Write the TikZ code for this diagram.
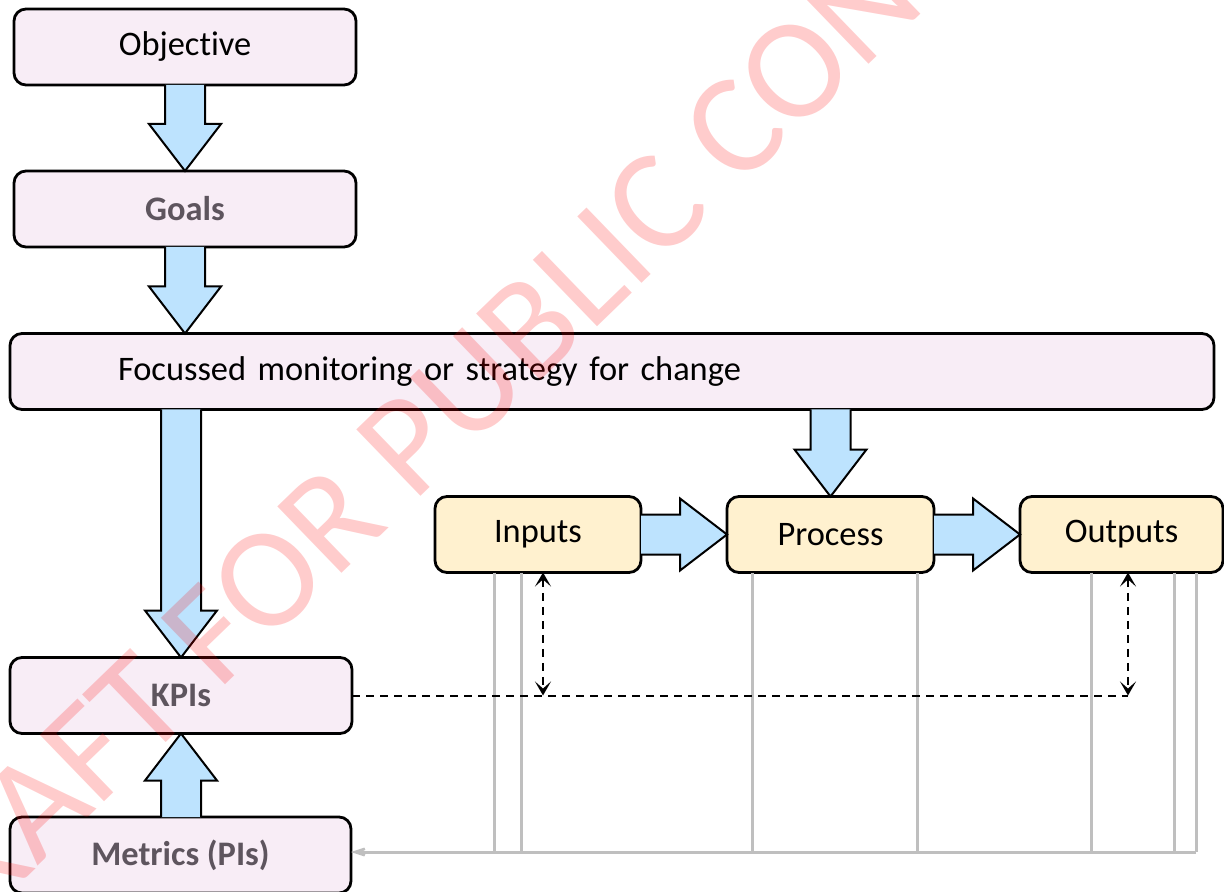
\documentclass[tikz,border=0pt]{standalone}
\usepackage{fontspec}
\setmainfont[Ligatures=NoCommon]{Carlito}
\newfontfamily\wmfont[Ligatures=NoCommon]{Carlito}
\usetikzlibrary{calc}
\usetikzlibrary{arrows.meta}
\usetikzlibrary{positioning}
\definecolor{box-pink}{RGB}{248, 237, 246}
\definecolor{box-yellow}{RGB}{255, 241, 207}
\definecolor{arrow-blue}{RGB}{189, 227, 254}
\definecolor{line-grey}{RGB}{191, 191, 191}
\definecolor{text-grey}{RGB}{94, 85, 94}

\tikzset{
    box/.style={draw=black, line width=1.4pt, rounded corners=6pt, minimum height=38pt,
        inner sep=0pt, outer sep=0pt, font=\fontsize{17.2}{21}\selectfont},
    pinkbox/.style={box, fill=box-pink},
    yellowbox/.style={box, fill=box-yellow},
    strong/.style={font=\fontsize{17.2}{21}\selectfont\bfseries, text=text-grey},
    blockarrow/.style={fill=arrow-blue, draw=black, line width=1pt, line join=miter},
    greyline/.style={draw=line-grey, line width=1.5pt},
    dashlink/.style={dash pattern=on 4pt off 3pt, line width=1pt},
    linktip/.tip={Stealth[length=7pt, width=8pt, inset=3.5pt]},
    backtip/.tip={Stealth[length=15pt, width=10pt, inset=10pt]},
    watermark/.style={font={\wmfont\fontsize{72}{80}\selectfont}, text=red, opacity=0.2}
}

% block arrows: #1 = where the shaft starts, #2 = tip
\newcommand{\arrowdown}[2]{%
    \filldraw[blockarrow] let \p1=(#1), \p2=(#2) in
        (\x2-10pt,\y1) -- (\x2-10pt,\y2+23.5pt) -- (\x2-18pt,\y2+23.5pt) -- (\x2,\y2)
        -- (\x2+18pt,\y2+23.5pt) -- (\x2+10pt,\y2+23.5pt) -- (\x2+10pt,\y1);}
\newcommand{\arrowup}[2]{%
    \filldraw[blockarrow] let \p1=(#1), \p2=(#2) in
        (\x2-10pt,\y1) -- (\x2-10pt,\y2-23.5pt) -- (\x2-18pt,\y2-23.5pt) -- (\x2,\y2)
        -- (\x2+18pt,\y2-23.5pt) -- (\x2+10pt,\y2-23.5pt) -- (\x2+10pt,\y1);}
\newcommand{\arrowright}[2]{%
    \filldraw[blockarrow] let \p1=(#1), \p2=(#2) in
        (\x1,\y2-10pt) -- (\x2-23.5pt,\y2-10pt) -- (\x2-23.5pt,\y2-18pt) -- (\x2,\y2)
        -- (\x2-23.5pt,\y2+18pt) -- (\x2-23.5pt,\y2+10pt) -- (\x1,\y2+10pt);}

\begin{document}
\begin{tikzpicture}[x=0.5pt, y=-0.5pt]
                \useasboundingbox (0, 0) rectangle (1224, 892);
                \clip (0, 0) rectangle (1224, 892);
                % boxes
                \node[pinkbox, minimum width=171pt] (objective) at (185, 47) {Objective};
                \node[pinkbox, strong, minimum width=171pt] (goals) at (185, 209) {Goals};
                \node[pinkbox, text width=494pt, inner xsep=54pt, align=left] (focus) at (612, 371.5) {Focussed monitoring or strategy for change};
                \node[pinkbox, strong, minimum width=171pt] (kpis) at (181, 695.5) {KPIs};
                \node[pinkbox, strong, minimum width=170.5pt] (metrics) at (180.5, 855) {Metrics (PIs)};
                \node[yellowbox, minimum width=103pt] (inputs) at (538, 534.5) {Inputs};
                \node[yellowbox, minimum width=103.5pt] (process) at (830.5, 534.5) {Process};
                \node[yellowbox, minimum width=101.5pt] (outputs) at (1121.5, 534.5) {Outputs};
                % grey feedback lines
                \coordinate (loop) at (1196, 852);
                \foreach \nd/\xpos in {inputs/494, inputs/521, process/752, process/917, outputs/1091, outputs/1174, outputs/1196}
                    \draw[greyline] (\nd.south -| \xpos, 0) -- (\xpos, 852);
                \draw[greyline, -backtip] (loop) -- (loop -| metrics.east);
                % block arrows
                \arrowdown{objective.south}{goals.north}
                \arrowdown{goals.south}{focus.north -| goals.north}
                \arrowdown{focus.south}{kpis.north}
                \arrowup{metrics.north}{kpis.south}
                \arrowdown{focus.south}{process.north}
                \arrowright{inputs.east}{process.west}
                \arrowright{process.east}{outputs.west}
                % dashed links
                \coordinate (inlink) at (kpis.east -| 543, 0);
                \coordinate (outlink) at (kpis.east -| 1128, 0);
                \draw[dashlink] (kpis.east) -- (outlink);
                \draw[dashlink, linktip-linktip] (inputs.south -| inlink) -- (inlink);
                \draw[dashlink, linktip-linktip] (outputs.south -| outlink) -- (outlink);
                % watermark
                \node[watermark, rotate=44] (draft) at (619, 241) {DRAFT FOR PUBLIC CONSULTATION};
            \end{tikzpicture}
\end{document}
